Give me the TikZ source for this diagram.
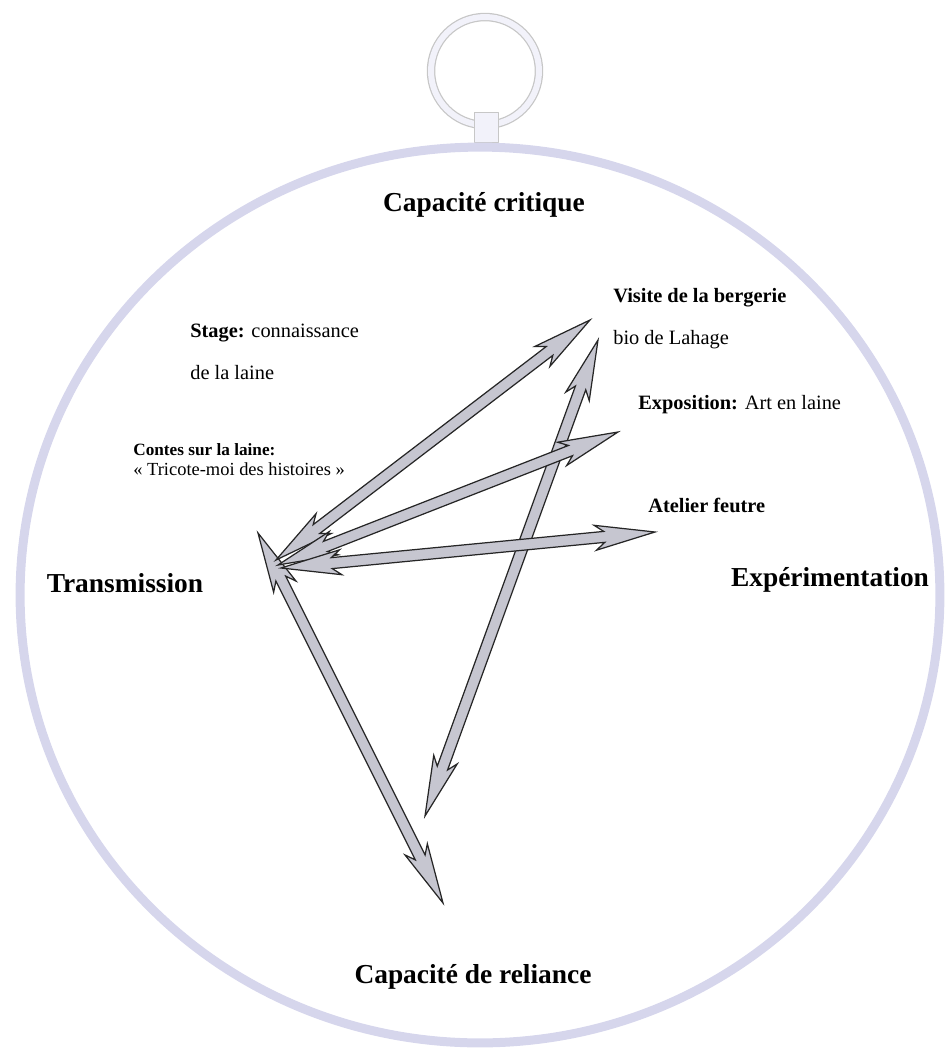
\documentclass[tikz,border=0pt]{standalone}
\usepackage{fontspec}
\setmainfont{Liberation Serif}
\usepackage{xcolor}
\usetikzlibrary{calc,positioning}
\definecolor{rosecadre}{RGB}{214,214,236}
\definecolor{rosegris}{RGB}{198,198,208}
\definecolor{roseanneau}{RGB}{242,242,250}
\newcommand{\fllong}{1.2cm}
\newcommand{\fljoin}{1.02cm}
\newcommand{\flhead}{0.25cm}
\newcommand{\flshaft}{0.11cm}
\newcommand{\fleche}[2]{%
  \draw[rose arrow] (#1)
    -- ($(#1)!\fllong!(#2)!\flhead!90:(#2)$)
    -- ($(#1)!\fljoin!(#2)!\flshaft!90:(#2)$)
    -- ($(#2)!\fljoin!(#1)!\flshaft!-90:(#1)$)
    -- ($(#2)!\fllong!(#1)!\flhead!-90:(#1)$)
    -- (#2)
    -- ($(#2)!\fllong!(#1)!\flhead!90:(#1)$)
    -- ($(#2)!\fljoin!(#1)!\flshaft!90:(#1)$)
    -- ($(#1)!\fljoin!(#2)!\flshaft!-90:(#2)$)
    -- ($(#1)!\fllong!(#2)!\flhead!-90:(#2)$)
    -- cycle;}
\tikzset{
  every picture/.append style={line cap=round,line join=round},
  rose frame/.style={draw=rosecadre,line width=0.18cm},
  rose ring edge/.style={draw=black!22,line width=0.17cm},
  rose ring/.style={draw=roseanneau,line width=0.12cm},
  rose stub/.style={fill=roseanneau,draw=black!22,line width=0.5pt},
  rose arrow/.style={draw=black!85,fill=rosegris,line width=0.7pt,line join=miter},
  rose pole/.style={font=\fontsize{15.6}{18}\selectfont\bfseries,inner sep=0pt},
  rose label/.style={font=\fontsize{11.6}{23.8}\selectfont,align=left,anchor=west,inner sep=0pt},
  rose small/.style={font=\fontsize{9.8}{11.3}\selectfont,align=left,anchor=west,inner sep=0pt}
}
\begin{document}
\begin{tikzpicture}[x=0.02cm, y=-0.02cm]
  \useasboundingbox (0,0) rectangle (951,1056);
  \draw[rose ring edge] (485,71) circle [radius=1.08cm];
  \draw[rose ring] (485,71) circle [radius=1.08cm];
  \filldraw[rose stub] (474,112) rectangle (498,142);
  \draw[rose frame] (480,595) ellipse [x radius=9.2cm, y radius=8.96cm];

  \node[rose pole] (critique) at (484,205) {Capacité critique};
  \node[rose pole] (reliance) at (473,977) {Capacité de reliance};
  \node[rose pole] (transmission) at (125,583) {Transmission};
  \node[rose pole] (experimentation) at (830,580) {Expérimentation};

  \node[rose label] (stage) at (190,352) {\textbf{Stage:} connaissance\\de la laine};
  \node[rose label] (bergerie) at (613,319) {\textbf{Visite de la bergerie}\\bio de Lahage};
  \node[rose label] (exposition) at (638,405) {\textbf{Exposition:} Art en laine};
  \node[rose label] (feutre) at (648,505) {\textbf{Atelier feutre}};
  \node[rose small] (contes) at (133,460) {\textbf{Contes sur la laine:}\\
    {\fontsize{10.5}{11.3}\selectfont «~Tricote-moi des histoires~»}};

  \coordinate (bergerie-g) at (276,560);
  \coordinate (bergerie-d) at (590,320);
  \coordinate (expo-g) at (278,565);
  \coordinate (expo-d) at (618,432);
  \coordinate (feutre-g) at (281,568);
  \coordinate (feutre-d) at (655,532);
  \coordinate (lahage-h) at (598,340);
  \coordinate (lahage-b) at (425,816);
  \coordinate (transm-h) at (258,533);
  \coordinate (reliance-b) at (443,903);

  \foreach \a/\b in {lahage-h/lahage-b,transm-h/reliance-b,bergerie-g/bergerie-d,expo-g/expo-d,feutre-g/feutre-d}
    \fleche{\a}{\b};
\end{tikzpicture}
\end{document}
